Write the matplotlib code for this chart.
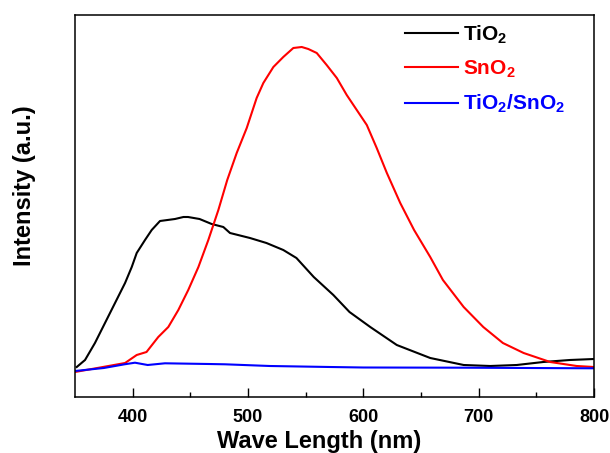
import matplotlib
matplotlib.use('Agg')
from matplotlib import pyplot as plt

# wavelength (nm) and intensity (a.u.)
tio2_wl = [351.5, 358.7, 367.3, 376, 384.7, 393.4, 399.2, 403.5, 410.7, 416.5, 423.7, 436.7,
           444, 448, 458, 468.5, 478.6, 484.4, 501.7, 516, 530.6, 542, 557, 574, 588, 606,
           629, 658, 687, 710, 733, 756, 779, 800]
tio2 = [30, 37, 54, 74, 94, 114, 130, 144, 157, 167, 176, 178,
        180, 180, 178, 173, 170, 164, 159, 154, 147, 139, 120, 102, 85, 70,
        52, 39, 32, 31, 32, 35, 37, 38]

sno2_wl = [350, 379, 393.4, 403.5, 412, 422.2, 430.9, 439.6, 448.2, 457, 465.6, 474.3, 482,
           490.2, 498.9, 507.5, 513.3, 522, 530.6, 539.3, 546.6, 552.3, 559.6, 568.2, 577,
           585.6, 594.3, 603, 611.6, 620.4, 632, 644, 658, 669, 687, 704, 721, 739, 762,
           785, 800]
sno2 = [25, 31, 34, 42, 45, 60, 70, 87, 107, 130, 157, 187, 217,
        244, 269, 299, 314, 330, 340, 349, 350, 348, 344, 332, 319,
        302, 287, 272, 249, 224, 194, 167, 140, 117, 90, 70, 54, 44, 35,
        31, 30]

mix_wl = [350, 375, 393, 402, 413, 428, 466, 480, 519, 571, 600, 687, 800]
mix = [26, 29, 32.7, 34.3, 32, 33.7, 33, 32.7, 31, 30, 29.5, 29.3, 28.7]

labels = ['TiO$_2$', 'SnO$_2$', 'TiO$_2$/SnO$_2$']
colors = ['black', 'red', 'blue']
xticks = [400, 500, 600, 700, 800]

plt.rcParams['font.family'] = ['Liberation Sans', 'DejaVu Sans']
plt.rcParams['font.weight'] = 'bold'
plt.rcParams['mathtext.fontset'] = 'custom'
plt.rcParams['mathtext.rm'] = 'Liberation Sans:bold'
plt.rcParams['mathtext.bf'] = 'Liberation Sans:bold'
plt.rcParams['mathtext.default'] = 'bf'

fig = plt.figure(figsize=(6.1, 4.53), dpi=100)
ax = fig.add_axes([75 / 610, 56 / 453, 519 / 610, 382 / 453])

for wl, y, lab, c in zip([tio2_wl, sno2_wl, mix_wl], [tio2, sno2, mix], labels, colors):
    ax.plot(wl, y, color=c, lw=1.5, label=lab)

ax.set_xlim(350, 800)
ax.set_ylim(0, 382)
ax.set_yticks([])
ax.set_xticks(xticks)
ax.set_xticks([450, 550, 650, 750], minor=True)
ax.tick_params(axis='x', which='major', direction='in', length=6.5, width=1, pad=9, labelsize=13)
ax.tick_params(axis='x', which='minor', direction='in', length=3.5, width=1)
for s in ax.spines.values():
    s.set_linewidth(1.1)

fig.text(319 / 610, 5 / 453, 'Wave Length (nm)', ha='center', va='baseline', fontsize=17, fontweight='bold')
fig.text(24 / 610, 1 - 186 / 453, 'Intensity (a.u.)', ha='center', va='center', rotation=90,
         fontsize=17, fontweight='bold')

leg = ax.legend(loc='upper left', bbox_to_anchor=(0.636, 0.978), frameon=False, fontsize=15,
                handlelength=2.55, handletextpad=0.25, labelspacing=0.62, borderpad=0, borderaxespad=0)
for t, c in zip(leg.get_texts(), colors):
    t.set_color(c)

fig.savefig('out.png', dpi=100)
